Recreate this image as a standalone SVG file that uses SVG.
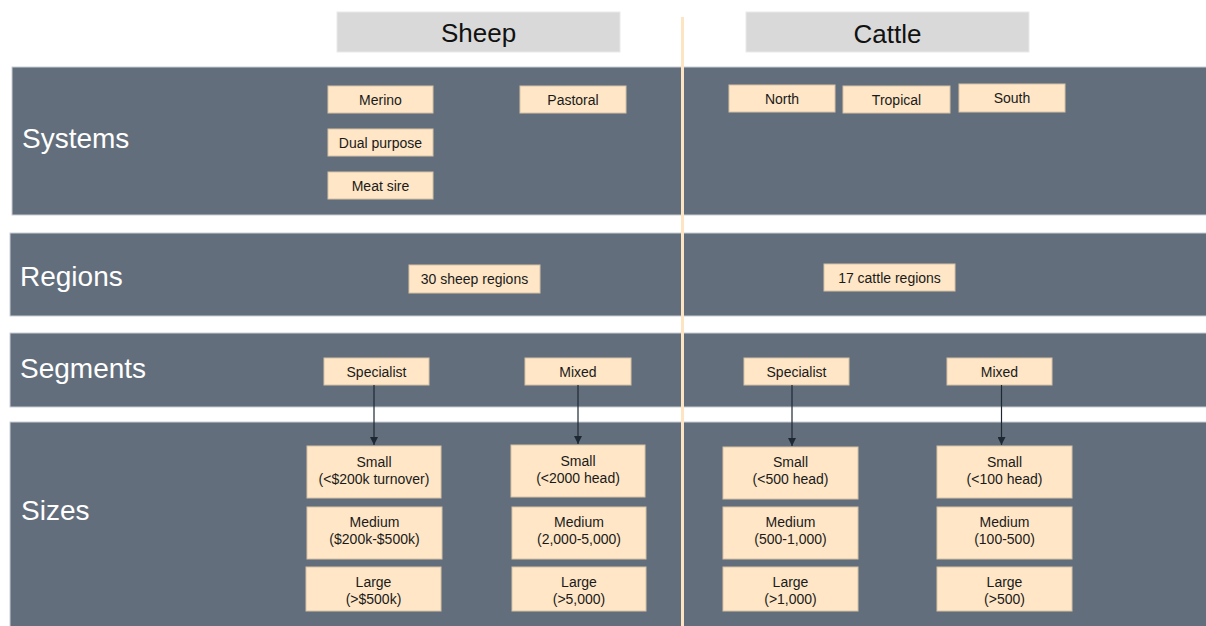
<svg xmlns="http://www.w3.org/2000/svg" width="1206" height="626" viewBox="0 0 1206 626">
<defs>
<style>
.band{fill:#636e7c;stroke:#c9cdd3;stroke-width:1}
.hdr{fill:#d9d9d9;stroke:#e9e9e9;stroke-width:1}
.hdrt{font-family:"Liberation Sans",Arial,sans-serif;font-size:26px;fill:#111;text-anchor:middle}
.lbl{font-family:"Liberation Sans",Arial,sans-serif;font-size:28px;fill:#ffffff}
.box{fill:#fee6c6;stroke:#d8c3a6;stroke-width:1}
.bt{font-family:"Liberation Sans",Arial,sans-serif;font-size:14px;fill:#1a1a1a;text-anchor:middle}
.con{stroke:#1e2835;stroke-width:1.2;fill:none;marker-end:url(#ah)}
</style>
<marker id="ah" viewBox="0 0 10 10" refX="10" refY="5" markerWidth="8" markerHeight="8" markerUnits="userSpaceOnUse" orient="auto">
<path d="M0,0 L10,5 L0,10 z" fill="#1e2835"/>
</marker>
</defs>
<rect width="1206" height="626" fill="#ffffff"/>

<g id="headers">
<g id="hdr-sheep"><rect class="hdr" x="337" y="12" width="283" height="40"/><text class="hdrt" x="478.5" y="42">Sheep</text></g>
<g id="hdr-cattle"><rect class="hdr" x="746" y="12" width="283" height="40"/><text class="hdrt" x="887.5" y="42.5">Cattle</text></g>
</g>

<g id="bands">
<g id="band-systems"><rect class="band" x="12" y="67" width="1200" height="148"/><text class="lbl" x="22" y="148">Systems</text></g>
<g id="band-regions"><rect class="band" x="10" y="233" width="1202" height="83"/><text class="lbl" x="20" y="286">Regions</text></g>
<g id="band-segments"><rect class="band" x="10" y="333" width="1202" height="74"/><text class="lbl" x="20" y="378">Segments</text></g>
<g id="band-sizes"><rect class="band" x="10" y="422" width="1202" height="210"/><text class="lbl" x="21" y="520">Sizes</text></g>
</g>

<line id="divider" x1="682.5" y1="17" x2="682.5" y2="626" stroke="#fde4c2" stroke-width="3"/>

<g id="n-merino"><rect class="box" x="328" y="86" width="105" height="27"/><text class="bt" x="380.5" y="104.5">Merino</text></g>
<g id="n-pastoral"><rect class="box" x="520" y="86" width="106" height="27"/><text class="bt" x="573" y="104.5">Pastoral</text></g>
<g id="n-dual"><rect class="box" x="328" y="129" width="105" height="27"/><text class="bt" x="380.5" y="147.5">Dual purpose</text></g>
<g id="n-meatsire"><rect class="box" x="328" y="172" width="105" height="27"/><text class="bt" x="380.5" y="190.5">Meat sire</text></g>
<g id="n-north"><rect class="box" x="729" y="85" width="106" height="27"/><text class="bt" x="782" y="103.5">North</text></g>
<g id="n-tropical"><rect class="box" x="843" y="86" width="107" height="27"/><text class="bt" x="896.5" y="104.5">Tropical</text></g>
<g id="n-south"><rect class="box" x="959" y="84" width="106" height="28"/><text class="bt" x="1012" y="103">South</text></g>

<g id="n-sheepregions"><rect class="box" x="409" y="265" width="131" height="28"/><text class="bt" x="474.5" y="284">30 sheep regions</text></g>
<g id="n-cattleregions"><rect class="box" x="824" y="264" width="131" height="27"/><text class="bt" x="889.5" y="282.5">17 cattle regions</text></g>

<g id="n-sheep-spec"><rect class="box" x="324" y="358" width="105" height="27"/><text class="bt" x="376.5" y="376.5">Specialist</text></g>
<g id="n-sheep-mixed"><rect class="box" x="525" y="358" width="106" height="27"/><text class="bt" x="578" y="376.5">Mixed</text></g>
<g id="n-cattle-spec"><rect class="box" x="744" y="358" width="105" height="27"/><text class="bt" x="796.5" y="376.5">Specialist</text></g>
<g id="n-cattle-mixed"><rect class="box" x="947" y="358" width="105" height="27"/><text class="bt" x="999.5" y="376.5">Mixed</text></g>

<g id="n-ss-small"><rect class="box" x="307" y="446" width="134" height="52"/><text class="bt" x="374" y="467">Small</text><text class="bt" x="374" y="484">(&lt;$200k turnover)</text></g>
<g id="n-ss-medium"><rect class="box" x="307" y="507" width="135" height="52"/><text class="bt" x="374.5" y="527">Medium</text><text class="bt" x="374.5" y="544">($200k-$500k)</text></g>
<g id="n-ss-large"><rect class="box" x="306" y="567" width="135" height="44"/><text class="bt" x="373.5" y="587">Large</text><text class="bt" x="373.5" y="604">(&gt;$500k)</text></g>

<g id="n-sm-small"><rect class="box" x="511" y="445" width="134" height="52"/><text class="bt" x="578" y="466">Small</text><text class="bt" x="578" y="483">(&lt;2000 head)</text></g>
<g id="n-sm-medium"><rect class="box" x="512" y="507" width="134" height="52"/><text class="bt" x="579" y="527">Medium</text><text class="bt" x="579" y="544">(2,000-5,000)</text></g>
<g id="n-sm-large"><rect class="box" x="512" y="567" width="134" height="44"/><text class="bt" x="579" y="587">Large</text><text class="bt" x="579" y="604">(&gt;5,000)</text></g>

<g id="n-cs-small"><rect class="box" x="723" y="447" width="135" height="52"/><text class="bt" x="790.5" y="467">Small</text><text class="bt" x="790.5" y="484">(&lt;500 head)</text></g>
<g id="n-cs-medium"><rect class="box" x="723" y="507" width="135" height="52"/><text class="bt" x="790.5" y="527">Medium</text><text class="bt" x="790.5" y="544">(500-1,000)</text></g>
<g id="n-cs-large"><rect class="box" x="723" y="567" width="135" height="44"/><text class="bt" x="790.5" y="587">Large</text><text class="bt" x="790.5" y="604">(&gt;1,000)</text></g>

<g id="n-cm-small"><rect class="box" x="937" y="446" width="135" height="52"/><text class="bt" x="1004.5" y="467">Small</text><text class="bt" x="1004.5" y="484">(&lt;100 head)</text></g>
<g id="n-cm-medium"><rect class="box" x="937" y="507" width="135" height="52"/><text class="bt" x="1004.5" y="527">Medium</text><text class="bt" x="1004.5" y="544">(100-500)</text></g>
<g id="n-cm-large"><rect class="box" x="937" y="567" width="135" height="44"/><text class="bt" x="1004.5" y="587">Large</text><text class="bt" x="1004.5" y="604">(&gt;500)</text></g>

<g id="connectors">
<line class="con" x1="374" y1="385" x2="374" y2="445"/>
<line class="con" x1="578" y1="385" x2="578" y2="444"/>
<line class="con" x1="792" y1="385" x2="792" y2="446"/>
<line class="con" x1="1001.5" y1="385" x2="1001.5" y2="445"/>
</g>
</svg>
